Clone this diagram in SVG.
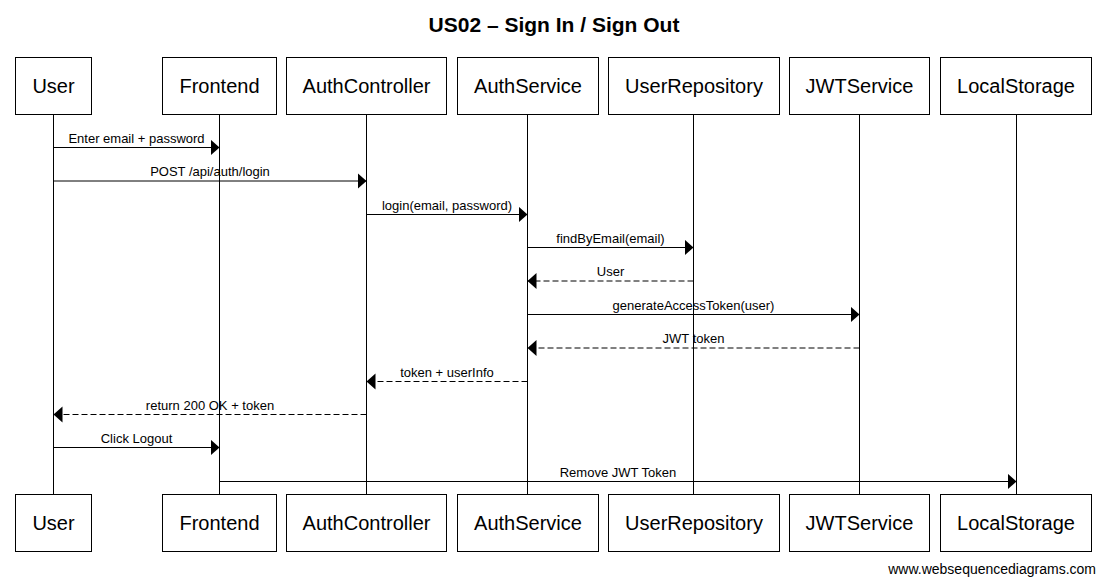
<svg xmlns="http://www.w3.org/2000/svg" width="1106" height="586" viewBox="0 0 1106 586">
<style>
  .box{fill:#fff;stroke:#000;stroke-width:1}
  .life{stroke:#000;stroke-width:1}
  .pname{font-family:"Liberation Sans",Arial,sans-serif;font-size:20px;fill:#000;text-anchor:middle}
  .msg{stroke:#000;stroke-width:1;fill:none;marker-end:url(#ah)}
  .ret{stroke-dasharray:6,3}
  .lbl{font-family:"Liberation Sans",Arial,sans-serif;font-size:13px;fill:#000;text-anchor:middle}
  .title{font-family:"Liberation Sans",Arial,sans-serif;font-size:21px;font-weight:bold;fill:#000;text-anchor:middle}
  .wm{font-family:"Liberation Sans",Arial,sans-serif;font-size:14px;fill:#000;text-anchor:end}
</style>
<defs>
  <marker id="ah" markerUnits="userSpaceOnUse" markerWidth="10" markerHeight="17" refX="9" refY="8" orient="auto" viewBox="0 0 10 17">
    <path d="M0,0 L9,8 L0,16 z" fill="#000"/>
  </marker>
</defs>
<rect width="1106" height="586" fill="#fff"/>
<text class="title" x="554" y="32">US02 – Sign In / Sign Out</text>

<g id="lifelines">
  <line class="life" x1="53.5" y1="114.5" x2="53.5" y2="494.5"/>
  <line class="life" x1="219.5" y1="114.5" x2="219.5" y2="494.5"/>
  <line class="life" x1="366.5" y1="114.5" x2="366.5" y2="494.5"/>
  <line class="life" x1="527.5" y1="114.5" x2="527.5" y2="494.5"/>
  <line class="life" x1="693.5" y1="114.5" x2="693.5" y2="494.5"/>
  <line class="life" x1="859.5" y1="114.5" x2="859.5" y2="494.5"/>
  <line class="life" x1="1016.5" y1="114.5" x2="1016.5" y2="494.5"/>
</g>

<g id="User">
  <rect class="box" x="15.5" y="57.5" width="76" height="57"/>
  <text class="pname" x="53.5" y="93">User</text>
  <rect class="box" x="15.5" y="494.5" width="76" height="57"/>
  <text class="pname" x="53.5" y="530">User</text>
</g>
<g id="Frontend">
  <rect class="box" x="162.5" y="57.5" width="114" height="57"/>
  <text class="pname" x="219.5" y="93">Frontend</text>
  <rect class="box" x="162.5" y="494.5" width="114" height="57"/>
  <text class="pname" x="219.5" y="530">Frontend</text>
</g>
<g id="AuthController">
  <rect class="box" x="286.5" y="57.5" width="160" height="57"/>
  <text class="pname" x="366.5" y="93">AuthController</text>
  <rect class="box" x="286.5" y="494.5" width="160" height="57"/>
  <text class="pname" x="366.5" y="530">AuthController</text>
</g>
<g id="AuthService">
  <rect class="box" x="457.5" y="57.5" width="141" height="57"/>
  <text class="pname" x="528" y="93">AuthService</text>
  <rect class="box" x="457.5" y="494.5" width="141" height="57"/>
  <text class="pname" x="528" y="530">AuthService</text>
</g>
<g id="UserRepository">
  <rect class="box" x="608.5" y="57.5" width="171" height="57"/>
  <text class="pname" x="694" y="93">UserRepository</text>
  <rect class="box" x="608.5" y="494.5" width="171" height="57"/>
  <text class="pname" x="694" y="530">UserRepository</text>
</g>
<g id="JWTService">
  <rect class="box" x="789.5" y="57.5" width="140" height="57"/>
  <text class="pname" x="859.5" y="93">JWTService</text>
  <rect class="box" x="789.5" y="494.5" width="140" height="57"/>
  <text class="pname" x="859.5" y="530">JWTService</text>
</g>
<g id="LocalStorage">
  <rect class="box" x="940.5" y="57.5" width="151" height="57"/>
  <text class="pname" x="1016" y="93">LocalStorage</text>
  <rect class="box" x="940.5" y="494.5" width="151" height="57"/>
  <text class="pname" x="1016" y="530">LocalStorage</text>
</g>

<g id="connectors">
  <line class="msg" x1="53.5" y1="147.5" x2="219.5" y2="147.5"/>
  <text class="lbl" x="136.5" y="142.5">Enter email + password</text>

  <line class="msg" x1="53.5" y1="181" x2="366.5" y2="181"/>
  <text class="lbl" x="210" y="176">POST /api/auth/login</text>

  <line class="msg" x1="366.5" y1="214.5" x2="527.5" y2="214.5"/>
  <text class="lbl" x="447" y="209.5">login(email, password)</text>

  <line class="msg" x1="527.5" y1="247.5" x2="693.5" y2="247.5"/>
  <text class="lbl" x="610.5" y="242.5">findByEmail(email)</text>

  <line class="msg ret" x1="693.5" y1="281" x2="527.5" y2="281"/>
  <text class="lbl" x="610.5" y="276">User</text>

  <line class="msg" x1="527.5" y1="314.5" x2="859.5" y2="314.5"/>
  <text class="lbl" x="693.5" y="309.5">generateAccessToken(user)</text>

  <line class="msg ret" x1="859.5" y1="348" x2="527.5" y2="348"/>
  <text class="lbl" x="693.5" y="343">JWT token</text>

  <line class="msg ret" x1="527.5" y1="381.5" x2="366.5" y2="381.5"/>
  <text class="lbl" x="447" y="376.5">token + userInfo</text>

  <line class="msg ret" x1="366.5" y1="414.5" x2="53.5" y2="414.5"/>
  <text class="lbl" x="210" y="409.5">return 200 OK + token</text>

  <line class="msg" x1="53.5" y1="447.5" x2="219.5" y2="447.5"/>
  <text class="lbl" x="136.5" y="442.5">Click Logout</text>

  <line class="msg" x1="219.5" y1="481.5" x2="1016.5" y2="481.5"/>
  <text class="lbl" x="618" y="476.5">Remove JWT Token</text>
</g>

<text class="wm" x="1096" y="574">www.websequencediagrams.com</text>
</svg>
